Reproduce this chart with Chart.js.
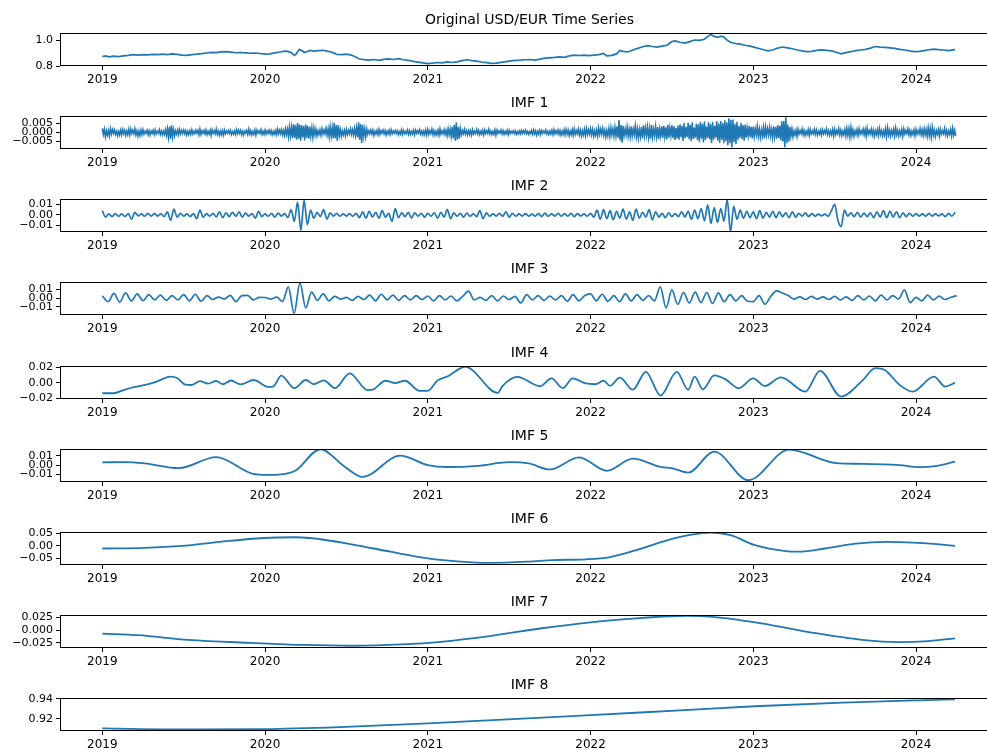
<!DOCTYPE html>
<html>
<head>
<meta charset="utf-8">
<title>USD/EUR EMD decomposition</title>
<script src="https://cdn.jsdelivr.net/npm/chart.js@4.4.1/dist/chart.umd.min.js"></script>
<style>
  html, body { margin: 0; padding: 0; background: #fff; overflow: hidden; width: 987px; height: 749px; }
  .panel { position: absolute; left: 0; width: 1000px; height: 83px; }
</style>
</head>
<body>
<script>
// ---- x axis (decimal years) ----
const YEAR_TICKS = [2019, 2020, 2021, 2022, 2023, 2024];

// ---- Original series: sample times and rates ----
const origT = [2019.00,2019.02,2019.04,2019.07,2019.10,2019.13,2019.16,2019.19,2019.22,2019.25,2019.28,2019.31,2019.34,2019.37,2019.40,2019.43,2019.46,2019.49,2019.52,2019.55,2019.58,2019.61,2019.64,2019.67,2019.70,2019.73,2019.76,2019.79,2019.82,2019.85,2019.88,2019.91,2019.94,2019.97,
2020.00,2020.03,2020.06,2020.09,2020.12,2020.14,2020.16,2020.18,2020.19,2020.21,2020.23,2020.24,2020.26,2020.28,2020.30,2020.33,2020.36,2020.38,2020.40,2020.42,2020.44,2020.47,2020.50,2020.53,2020.56,2020.58,2020.61,2020.64,2020.67,2020.70,2020.73,2020.76,2020.79,2020.82,2020.85,2020.88,2020.91,2020.94,2020.97,
2021.00,2021.03,2021.06,2021.09,2021.12,2021.15,2021.18,2021.21,2021.24,2021.27,2021.30,2021.33,2021.36,2021.39,2021.42,2021.45,2021.48,2021.51,2021.54,2021.57,2021.60,2021.63,2021.66,2021.69,2021.72,2021.75,2021.78,2021.81,2021.84,2021.87,2021.90,2021.93,2021.96,2021.99,
2022.02,2022.05,2022.08,2022.10,2022.13,2022.16,2022.18,2022.20,2022.23,2022.26,2022.29,2022.32,2022.35,2022.38,2022.41,2022.44,2022.47,2022.50,2022.52,2022.55,2022.58,2022.61,2022.64,2022.67,2022.70,2022.72,2022.74,2022.76,2022.78,2022.80,2022.82,2022.84,2022.86,2022.89,2022.92,2022.95,2022.98,
2023.01,2023.04,2023.07,2023.09,2023.12,2023.15,2023.18,2023.21,2023.24,2023.27,2023.30,2023.33,2023.36,2023.39,2023.42,2023.45,2023.48,2023.51,2023.54,2023.57,2023.60,2023.63,2023.66,2023.69,2023.72,2023.75,2023.78,2023.81,2023.84,2023.87,2023.90,2023.93,2023.96,2023.99,
2024.02,2024.05,2024.08,2024.11,2024.14,2024.17,2024.20,2024.24];
const origV = [0.875,0.880,0.872,0.878,0.874,0.880,0.884,0.889,0.886,0.890,0.887,0.892,0.889,0.893,0.890,0.895,0.891,0.886,0.884,0.890,0.893,0.897,0.902,0.907,0.905,0.910,0.913,0.909,0.904,0.906,0.903,0.900,0.902,0.898,
0.893,0.896,0.903,0.910,0.917,0.914,0.905,0.884,0.893,0.930,0.918,0.906,0.914,0.922,0.917,0.920,0.923,0.917,0.912,0.903,0.892,0.889,0.893,0.886,0.870,0.856,0.851,0.848,0.852,0.846,0.853,0.857,0.852,0.858,0.850,0.846,0.838,0.832,0.826,
0.820,0.824,0.829,0.826,0.834,0.829,0.834,0.843,0.850,0.844,0.839,0.833,0.828,0.822,0.824,0.830,0.836,0.842,0.845,0.847,0.850,0.852,0.848,0.855,0.862,0.865,0.868,0.872,0.868,0.880,0.885,0.883,0.886,0.882,
0.885,0.890,0.898,0.880,0.884,0.895,0.922,0.915,0.910,0.925,0.938,0.950,0.958,0.952,0.948,0.955,0.962,0.990,0.995,0.985,0.978,0.990,1.002,1.000,1.008,1.030,1.045,1.030,1.022,1.032,1.025,1.000,0.985,0.975,0.970,0.962,0.955,
0.945,0.935,0.925,0.918,0.925,0.940,0.948,0.942,0.935,0.925,0.918,0.912,0.915,0.922,0.926,0.922,0.918,0.908,0.896,0.905,0.912,0.920,0.925,0.930,0.940,0.952,0.948,0.946,0.942,0.938,0.930,0.925,0.918,0.912,
0.915,0.921,0.927,0.932,0.928,0.925,0.920,0.928];

// ---- IMF 1: evenly spaced samples, one row per quarter ----
const imf1Start = 2019.0, imf1Step = 0.00625;
const imf1V = [
0.0022,-0.0012,0.0017,-0.0024,0.0008,-0.0016,0.0010,-0.0020,0.0021,-0.0009,0.0015,-0.0006,0.0014,-0.0011,0.0006,-0.0019,0.0005,-0.0015,0.0012,-0.0013,0.0016,-0.0007,0.0011,-0.0018,0.0007,-0.0013,0.0017,-0.0015,0.0019,-0.0006,0.0012,-0.0009,0.0020,-0.0014,0.0008,-0.0022,0.0006,-0.0017,0.0013,-0.0013,
0.0014,-0.0010,0.0006,-0.0005,0.0011,-0.0013,0.0009,-0.0015,0.0007,-0.0006,0.0012,-0.0012,0.0013,-0.0009,0.0005,-0.0004,0.0015,-0.0011,0.0008,-0.0014,0.0006,-0.0012,0.0014,-0.0017,0.0020,-0.0028,0.0030,-0.0036,0.0038,-0.0025,0.0016,-0.0020,0.0008,-0.0010,0.0012,-0.0013,0.0016,-0.0008,0.0010,-0.0006,
0.0013,-0.0008,0.0010,-0.0015,0.0005,-0.0012,0.0009,-0.0011,0.0014,-0.0010,0.0006,-0.0007,0.0012,-0.0005,0.0011,-0.0014,0.0018,-0.0012,0.0008,-0.0006,0.0011,-0.0009,0.0013,-0.0013,0.0005,-0.0010,0.0012,-0.0017,0.0014,-0.0006,0.0009,-0.0008,0.0019,-0.0011,0.0007,-0.0016,0.0006,-0.0013,0.0010,-0.0015,
0.0012,-0.0009,0.0007,-0.0005,0.0010,-0.0006,0.0011,-0.0012,0.0004,-0.0010,0.0008,-0.0011,0.0015,-0.0007,0.0012,-0.0006,0.0011,-0.0013,0.0006,-0.0014,0.0007,-0.0004,0.0010,-0.0012,0.0018,-0.0010,0.0009,-0.0015,0.0005,-0.0011,0.0013,-0.0016,0.0012,-0.0005,0.0008,-0.0006,0.0015,-0.0012,0.0006,-0.0011,
0.0013,-0.0010,0.0008,-0.0006,0.0012,-0.0007,0.0010,-0.0014,0.0005,-0.0011,0.0009,-0.0013,0.0018,-0.0009,0.0012,-0.0008,0.0015,-0.0014,0.0010,-0.0018,0.0020,-0.0012,0.0018,-0.0025,0.0030,-0.0020,0.0028,-0.0032,0.0045,-0.0030,0.0038,-0.0040,0.0050,-0.0035,0.0042,-0.0046,0.0038,-0.0028,0.0034,-0.0044,
0.0042,-0.0030,0.0036,-0.0035,0.0030,-0.0022,0.0025,-0.0028,0.0024,-0.0015,0.0018,-0.0020,0.0008,-0.0012,0.0014,-0.0016,0.0020,-0.0010,0.0013,-0.0009,0.0022,-0.0015,0.0019,-0.0025,0.0030,-0.0022,0.0026,-0.0034,0.0050,-0.0032,0.0038,-0.0046,0.0040,-0.0018,0.0015,-0.0022,0.0008,-0.0014,0.0011,-0.0020,
0.0016,-0.0012,0.0010,-0.0008,0.0020,-0.0011,0.0014,-0.0015,0.0022,-0.0018,0.0025,-0.0028,0.0054,-0.0040,0.0045,-0.0058,0.0040,-0.0022,0.0020,-0.0025,0.0018,-0.0011,0.0009,-0.0007,0.0014,-0.0010,0.0012,-0.0017,0.0006,-0.0009,0.0011,-0.0013,0.0016,-0.0012,0.0008,-0.0005,0.0012,-0.0008,0.0010,-0.0015,
0.0006,-0.0009,0.0012,-0.0011,0.0014,-0.0008,0.0007,-0.0005,0.0010,-0.0006,0.0009,-0.0013,0.0004,-0.0010,0.0013,-0.0012,0.0011,-0.0007,0.0005,-0.0006,0.0013,-0.0011,0.0008,-0.0012,0.0005,-0.0009,0.0012,-0.0014,0.0012,-0.0006,0.0009,-0.0004,0.0014,-0.0010,0.0007,-0.0013,0.0006,-0.0012,0.0013,-0.0015,
0.0016,-0.0011,0.0009,-0.0007,0.0018,-0.0012,0.0010,-0.0015,0.0006,-0.0013,0.0012,-0.0016,0.0019,-0.0010,0.0007,-0.0008,0.0015,-0.0012,0.0011,-0.0018,0.0020,-0.0014,0.0017,-0.0022,0.0030,-0.0034,0.0040,-0.0046,0.0054,-0.0040,0.0028,-0.0035,0.0022,-0.0012,0.0010,-0.0008,0.0016,-0.0011,0.0009,-0.0015,
0.0008,-0.0012,0.0010,-0.0016,0.0014,-0.0009,0.0006,-0.0006,0.0015,-0.0008,0.0011,-0.0013,0.0005,-0.0010,0.0012,-0.0014,0.0012,-0.0007,0.0009,-0.0006,0.0017,-0.0010,0.0007,-0.0013,0.0005,-0.0011,0.0013,-0.0016,0.0012,-0.0006,0.0008,-0.0004,0.0013,-0.0009,0.0010,-0.0012,0.0005,-0.0008,0.0011,-0.0013,
0.0011,-0.0007,0.0006,-0.0004,0.0009,-0.0006,0.0008,-0.0012,0.0004,-0.0009,0.0007,-0.0008,0.0011,-0.0006,0.0009,-0.0005,0.0012,-0.0008,0.0005,-0.0011,0.0004,-0.0007,0.0010,-0.0010,0.0013,-0.0009,0.0008,-0.0015,0.0006,-0.0010,0.0011,-0.0012,0.0010,-0.0005,0.0007,-0.0004,0.0013,-0.0009,0.0006,-0.0012,
0.0006,-0.0010,0.0011,-0.0012,0.0015,-0.0009,0.0008,-0.0007,0.0013,-0.0011,0.0010,-0.0015,0.0006,-0.0012,0.0014,-0.0014,0.0016,-0.0010,0.0012,-0.0018,0.0007,-0.0013,0.0015,-0.0017,0.0019,-0.0011,0.0009,-0.0008,0.0018,-0.0014,0.0012,-0.0020,0.0009,-0.0015,0.0017,-0.0019,0.0021,-0.0012,0.0014,-0.0010,
0.0020,-0.0014,0.0016,-0.0022,0.0009,-0.0017,0.0013,-0.0021,0.0024,-0.0012,0.0018,-0.0010,0.0022,-0.0016,0.0012,-0.0025,0.0011,-0.0019,0.0021,-0.0023,0.0026,-0.0014,0.0019,-0.0022,0.0028,-0.0020,0.0032,-0.0030,0.0067,-0.0045,0.0040,-0.0057,0.0035,-0.0020,0.0018,-0.0015,0.0030,-0.0022,0.0017,-0.0026,
0.0032,-0.0022,0.0018,-0.0014,0.0035,-0.0025,0.0020,-0.0031,0.0015,-0.0024,0.0029,-0.0034,0.0038,-0.0019,0.0024,-0.0018,0.0030,-0.0028,0.0022,-0.0036,0.0040,-0.0026,0.0017,-0.0020,0.0032,-0.0024,0.0028,-0.0038,0.0018,-0.0021,0.0033,-0.0030,0.0036,-0.0023,0.0027,-0.0039,0.0041,-0.0029,0.0024,-0.0020,
0.0038,-0.0030,0.0034,-0.0042,0.0025,-0.0033,0.0037,-0.0040,0.0043,-0.0028,0.0036,-0.0047,0.0050,-0.0032,0.0028,-0.0025,0.0052,-0.0037,0.0041,-0.0048,0.0055,-0.0036,0.0026,-0.0030,0.0047,-0.0040,0.0044,-0.0053,0.0058,-0.0035,0.0046,-0.0055,0.0060,-0.0042,0.0031,-0.0030,0.0054,-0.0038,0.0045,-0.0059,
0.0056,-0.0040,0.0035,-0.0030,0.0060,-0.0045,0.0048,-0.0058,0.0062,-0.0041,0.0050,-0.0060,0.0065,-0.0048,0.0055,-0.0070,0.0076,-0.0060,0.0068,-0.0082,0.0070,-0.0052,0.0047,-0.0064,0.0058,-0.0040,0.0034,-0.0030,0.0050,-0.0036,0.0040,-0.0046,0.0042,-0.0029,0.0024,-0.0020,0.0036,-0.0027,0.0030,-0.0034,
0.0032,-0.0024,0.0019,-0.0015,0.0034,-0.0022,0.0018,-0.0028,0.0014,-0.0020,0.0026,-0.0033,0.0029,-0.0017,0.0021,-0.0015,0.0027,-0.0021,0.0016,-0.0030,0.0033,-0.0024,0.0028,-0.0035,0.0040,-0.0030,0.0036,-0.0045,0.0060,-0.0050,0.0062,-0.0082,0.0085,-0.0060,0.0042,-0.0050,0.0030,-0.0022,0.0018,-0.0025,
0.0008,-0.0015,0.0012,-0.0022,0.0018,-0.0010,0.0009,-0.0007,0.0019,-0.0013,0.0011,-0.0017,0.0006,-0.0012,0.0015,-0.0018,0.0016,-0.0009,0.0007,-0.0008,0.0017,-0.0011,0.0013,-0.0015,0.0006,-0.0010,0.0012,-0.0016,0.0014,-0.0008,0.0010,-0.0007,0.0019,-0.0012,0.0009,-0.0016,0.0008,-0.0013,0.0015,-0.0020,
0.0017,-0.0012,0.0010,-0.0008,0.0021,-0.0014,0.0012,-0.0018,0.0007,-0.0013,0.0016,-0.0020,0.0022,-0.0017,0.0020,-0.0026,0.0028,-0.0018,0.0014,-0.0022,0.0008,-0.0012,0.0015,-0.0017,0.0020,-0.0011,0.0008,-0.0009,0.0017,-0.0013,0.0016,-0.0021,0.0023,-0.0012,0.0009,-0.0008,0.0018,-0.0015,0.0013,-0.0022,
0.0009,-0.0013,0.0015,-0.0018,0.0022,-0.0012,0.0010,-0.0019,0.0008,-0.0016,0.0019,-0.0024,0.0026,-0.0015,0.0012,-0.0021,0.0009,-0.0014,0.0017,-0.0022,0.0024,-0.0013,0.0011,-0.0020,0.0008,-0.0015,0.0016,-0.0021,0.0019,-0.0009,0.0010,-0.0007,0.0020,-0.0014,0.0011,-0.0018,0.0006,-0.0012,0.0014,-0.0019,
0.0017,-0.0011,0.0009,-0.0008,0.0021,-0.0013,0.0015,-0.0018,0.0020,-0.0014,0.0016,-0.0022,0.0025,-0.0018,0.0021,-0.0027,0.0028,-0.0016,0.0013,-0.0023,0.0009,-0.0012,0.0015,-0.0021,0.0018,-0.0010,0.0008,-0.0008,0.0022,-0.0014,0.0012,-0.0019,0.0007,-0.0011,0.0016,-0.0020,0.0023,-0.0015,0.0012,-0.0021];

// ---- IMF 2: evenly spaced samples ----
const imf2Start = 2019.0, imf2Step = 0.02;
const imf2V = [
0.0040,-0.0020,0.0010,-0.0015,0.0012,-0.0012,0.0010,-0.0014,0.0012,-0.0040,0.0025,-0.0008,0.0010,-0.0012,0.0015,-0.0010,0.0012,-0.0010,0.0010,-0.0015,
0.0030,-0.0050,0.0055,-0.0020,0.0015,-0.0012,0.0010,-0.0015,0.0012,-0.0035,0.0045,-0.0020,0.0012,-0.0010,0.0015,-0.0018,0.0030,-0.0025,0.0020,-0.0015,
0.0025,-0.0012,0.0030,-0.0020,0.0018,-0.0010,0.0012,-0.0030,0.0035,-0.0015,
0.0010,-0.0012,0.0015,-0.0020,0.0018,-0.0010,0.0012,-0.0025,0.0050,-0.0060,0.0120,-0.0145,0.0140,-0.0090,0.0045,-0.0030,0.0025,-0.0015,0.0050,-0.0040,
0.0020,-0.0010,0.0015,-0.0012,0.0010,-0.0010,0.0012,-0.0012,0.0015,-0.0025,0.0030,-0.0030,0.0035,-0.0020,0.0025,-0.0030,0.0040,-0.0020,0.0015,-0.0060,
0.0060,-0.0025,0.0020,-0.0015,0.0025,-0.0030,0.0020,-0.0012,0.0015,-0.0020,
0.0015,-0.0012,0.0020,-0.0030,0.0025,-0.0020,0.0050,-0.0035,0.0020,-0.0012,0.0015,-0.0020,0.0018,-0.0012,0.0010,-0.0015,0.0040,-0.0035,0.0020,-0.0012,
0.0010,-0.0010,0.0015,-0.0012,0.0030,-0.0020,0.0015,-0.0012,0.0010,-0.0010,0.0012,-0.0010,0.0008,-0.0010,0.0012,-0.0015,0.0018,-0.0012,0.0010,-0.0010,
0.0015,-0.0012,0.0012,-0.0010,0.0015,-0.0015,0.0012,-0.0010,0.0010,-0.0012,
0.0015,-0.0020,0.0045,-0.0040,0.0050,-0.0035,0.0040,-0.0045,0.0035,-0.0030,0.0055,-0.0040,0.0030,-0.0050,0.0055,-0.0030,0.0025,-0.0020,0.0050,-0.0045,
0.0030,-0.0020,0.0015,-0.0025,0.0020,-0.0015,0.0012,-0.0015,0.0030,-0.0020,0.0035,-0.0040,0.0045,-0.0035,0.0060,-0.0055,0.0095,-0.0080,0.0070,-0.0070,
0.0060,-0.0060,0.0145,-0.0160,0.0080,-0.0040,0.0045,-0.0030,0.0035,-0.0025,
0.0030,-0.0035,0.0040,-0.0030,0.0025,-0.0020,0.0035,-0.0025,0.0030,-0.0015,0.0020,-0.0025,0.0030,-0.0020,0.0015,-0.0012,0.0020,-0.0015,0.0012,-0.0010,
0.0008,-0.0008,0.0008,-0.0012,0.0040,0.0100,-0.0050,-0.0110,0.0045,-0.0010,0.0020,-0.0015,0.0025,-0.0020,0.0018,-0.0015,0.0020,-0.0025,0.0030,-0.0020,
0.0040,-0.0025,0.0035,-0.0020,0.0030,-0.0025,0.0020,-0.0015,0.0015,-0.0012,
0.0012,-0.0010,0.0010,-0.0012,0.0015,-0.0010,0.0010,-0.0008,0.0010,-0.0015,0.0015,-0.0012,0.0025];

// ---- IMF 3: evenly spaced samples (28 per year) ----
const imf3Start = 2019.0, imf3Step = 1 / 28;
const imf3V = [
0.0026,-0.0040,0.0055,-0.0045,0.0060,-0.0030,0.0050,-0.0028,0.0040,-0.0020,0.0035,-0.0025,0.0030,-0.0020,0.0040,-0.0030,0.0045,-0.0035,0.0030,-0.0015,0.0012,-0.0010,0.0032,-0.0040,0.0030,0.0032,-0.0020,0.0010,
0.0008,-0.0010,0.0012,-0.0038,0.0130,-0.0175,0.0175,-0.0110,0.0070,-0.0025,0.0050,-0.0030,0.0020,-0.0010,0.0010,-0.0025,0.0020,-0.0015,0.0035,-0.0030,0.0045,-0.0020,0.0035,-0.0025,0.0030,-0.0020,0.0030,-0.0015,
0.0025,-0.0030,0.0030,-0.0020,0.0025,-0.0030,0.0020,0.0080,-0.0020,0.0010,-0.0025,0.0030,-0.0030,0.0025,-0.0015,0.0020,-0.0055,0.0040,-0.0020,0.0030,-0.0025,0.0025,-0.0020,0.0030,-0.0035,0.0040,-0.0030,0.0030,
0.0050,-0.0030,0.0045,-0.0035,0.0030,-0.0040,0.0050,-0.0030,0.0040,-0.0025,0.0030,-0.0030,0.0130,-0.0110,0.0095,-0.0070,0.0065,-0.0055,0.0070,-0.0050,0.0065,-0.0060,0.0060,-0.0040,0.0040,-0.0030,0.0030,-0.0035,
-0.0040,0.0030,-0.0068,0.0020,0.0083,0.0060,0.0030,-0.0010,0.0015,-0.0015,0.0020,-0.0010,0.0015,-0.0015,0.0020,-0.0020,0.0015,-0.0025,0.0030,-0.0020,0.0025,-0.0030,0.0035,-0.0020,0.0030,-0.0010,0.0095,-0.0050,
0.0010,-0.0030,0.0035,-0.0020,0.0025,-0.0015,0.0010,0.0030];

// ---- IMF 4 ----
const imf4T = [2019.00,2019.07,2019.13,2019.20,2019.27,2019.33,2019.38,2019.42,2019.46,2019.51,2019.55,2019.60,2019.65,2019.70,2019.74,2019.79,2019.85,2019.93,2020.02,2020.05,2020.10,2020.18,2020.25,2020.30,2020.36,2020.43,2020.52,2020.63,2020.66,2020.74,2020.80,2020.86,2020.95,2021.00,2021.06,2021.12,2021.23,2021.43,2021.46,2021.55,2021.69,2021.76,2021.83,2021.89,2021.97,2022.03,2022.08,2022.12,2022.18,2022.26,2022.34,2022.43,2022.53,2022.60,2022.64,2022.69,2022.76,2022.83,2022.91,2023.00,2023.07,2023.17,2023.32,2023.41,2023.54,2023.67,2023.75,2023.81,2023.90,2023.98,2024.11,2024.18,2024.24];
const imf4V = [-0.0136,-0.0136,-0.0095,-0.0055,-0.0025,0.0010,0.0055,0.0078,0.0060,-0.0025,-0.0030,0.0020,-0.0012,0.0022,-0.0020,0.0028,-0.0022,0.0035,-0.0055,-0.0050,0.0090,-0.0070,0.0035,-0.0020,0.0030,-0.0070,0.0120,-0.0095,-0.0090,0.0025,-0.0005,0.0025,-0.0105,-0.0105,0.0030,0.0080,0.0205,-0.0130,-0.0040,0.0075,-0.0045,0.0055,-0.0070,0.0055,-0.0010,-0.0020,0.0026,-0.0040,0.0064,-0.0090,0.0140,-0.0166,0.0140,-0.0090,0.0077,-0.0085,0.0094,0.0043,-0.0070,0.0055,-0.0043,0.0068,-0.0115,0.0153,-0.0179,0.0026,0.0187,0.0160,-0.0030,-0.0115,0.0077,-0.0050,0.0000];

// ---- IMF 5 ----
const imf5T = [2019.00,2019.14,2019.26,2019.47,2019.70,2019.92,2020.03,2020.15,2020.19,2020.34,2020.49,2020.60,2020.83,2021.00,2021.12,2021.31,2021.50,2021.62,2021.75,2021.93,2022.10,2022.26,2022.43,2022.51,2022.60,2022.76,2022.97,2023.22,2023.51,2023.67,2023.90,2024.02,2024.13,2024.24];
const imf5V = [0.0029,0.0032,0.0018,-0.0032,0.0085,-0.0089,-0.0104,-0.0082,-0.0054,0.0168,-0.0018,-0.0125,0.0100,0.0000,-0.0020,-0.0007,0.0032,0.0018,-0.0046,0.0082,-0.0060,0.0068,-0.0018,-0.0036,-0.0079,0.0143,-0.0160,0.0164,0.0021,0.0014,0.0000,-0.0021,-0.0007,0.0036];

// ---- IMF 6 ----
const imf6T = [2019.00,2019.26,2019.49,2019.72,2019.99,2020.19,2020.34,2020.54,2020.77,2021.00,2021.20,2021.38,2021.62,2021.77,2021.97,2022.12,2022.28,2022.47,2022.62,2022.74,2022.86,2023.01,2023.20,2023.28,2023.44,2023.63,2023.82,2023.98,2024.13,2024.24];
const imf6V = [-0.0104,-0.0078,0.0000,0.0156,0.0310,0.0340,0.0260,0.0050,-0.0230,-0.0490,-0.0620,-0.0670,-0.0620,-0.0560,-0.0530,-0.0440,-0.0170,0.0220,0.0440,0.0520,0.0420,0.0026,-0.0210,-0.0230,-0.0104,0.0090,0.0156,0.0130,0.0065,0.0000];

// ---- IMF 7 ----
const imf7T = [2019.00,2019.22,2019.53,2019.92,2020.23,2020.54,2020.84,2021.08,2021.39,2021.70,2022.00,2022.28,2022.45,2022.60,2022.75,2023.05,2023.36,2023.67,2023.90,2024.05,2024.24];
const imf7V = [-0.0065,-0.0098,-0.0190,-0.0250,-0.0290,-0.0306,-0.0280,-0.0228,-0.0110,0.0039,0.0156,0.0234,0.0270,0.0283,0.0265,0.0137,-0.0046,-0.0190,-0.0234,-0.0220,-0.0160];

// ---- IMF 8 (trend) ----
const imf8T = [2019.00,2019.53,2019.99,2020.46,2021.00,2021.46,2022.00,2022.55,2023.01,2023.55,2024.02,2024.24];
const imf8V = [0.9105,0.9095,0.9098,0.9118,0.9154,0.9193,0.9236,0.9285,0.9325,0.9361,0.9384,0.9393];

// ---- panel titles and y tick labels ----
const panelTitles = ['Original USD/EUR Time Series', 'IMF 1', 'IMF 2', 'IMF 3', 'IMF 4', 'IMF 5', 'IMF 6', 'IMF 7', 'IMF 8'];
const yTickValues = [[0.8, 1.0], [-0.005, 0, 0.005], [-0.01, 0, 0.01], [-0.01, 0, 0.01], [-0.02, 0, 0.02], [-0.01, 0, 0.01], [-0.05, 0, 0.05], [-0.025, 0, 0.025], [0.92, 0.94]];
const yTickLabels = [['0.8', '1.0'], ['\u22120.005', '0.000', '0.005'], ['\u22120.01', '0.00', '0.01'], ['\u22120.01', '0.00', '0.01'], ['\u22120.02', '0.00', '0.02'], ['\u22120.01', '0.00', '0.01'], ['\u22120.05', '0.00', '0.05'], ['\u22120.025', '0.000', '0.025'], ['0.92', '0.94']];
const yLimits = [[0.802, 1.056], [-0.0091, 0.0089], [-0.016, 0.015], [-0.0192, 0.0185], [-0.021, 0.0215], [-0.0179, 0.0171], [-0.0754, 0.0546], [-0.035, 0.030], [0.9079, 0.9407]];

// ---- build point lists ----
const pairs = (t, v) => t.map((x, i) => ({ x, y: v[i] }));
const even = (start, step, v) => v.map((y, i) => ({ x: start + i * step, y }));

const series = [
  { pts: pairs(origT, origV), smooth: false, width: 1.7 },
  { pts: even(imf1Start, imf1Step, imf1V), smooth: false, width: 1.5 },
  { pts: even(imf2Start, imf2Step, imf2V), smooth: true, width: 1.7 },
  { pts: even(imf3Start, imf3Step, imf3V), smooth: true, width: 1.7 },
  { pts: pairs(imf4T, imf4V), smooth: true, width: 1.8 },
  { pts: pairs(imf5T, imf5V), smooth: true, width: 1.8 },
  { pts: pairs(imf6T, imf6V), smooth: true, width: 1.8 },
  { pts: pairs(imf7T, imf7V), smooth: true, width: 1.8 },
  { pts: pairs(imf8T, imf8V), smooth: true, width: 1.8 }
];

// ---- layout ----
const FRAME_TOPS = [33, 116, 199, 282, 366, 449, 532, 615, 698];
const TITLE_SPACE = 28, AXIS_W = 60, XAXIS_H = 22;

Chart.defaults.font.family = '"DejaVu Sans", sans-serif';
Chart.defaults.color = '#000';

// box around the plot area plus the panel title above it
const panelFrame = {
  id: 'panelFrame',
  afterDraw(chart, args, opts) {
    const { ctx, chartArea: a } = chart;
    ctx.save();
    ctx.strokeStyle = '#000';
    ctx.lineWidth = 1;
    ctx.strokeRect(Math.round(a.left) + 0.5, Math.round(a.top) + 0.5,
                   Math.round(a.right - a.left), Math.round(a.bottom - a.top) - 1);
    ctx.fillStyle = '#000';
    ctx.font = '14px "DejaVu Sans", sans-serif';
    ctx.textAlign = 'center';
    ctx.textBaseline = 'middle';
    ctx.fillText(opts.text, (a.left + a.right) / 2, a.top - 13);
    ctx.restore();
  }
};

series.forEach((s, i) => {
  const div = document.createElement('div');
  div.className = 'panel';
  div.style.top = (FRAME_TOPS[i] - TITLE_SPACE) + 'px';
  const cv = document.createElement('canvas');
  cv.width = 1000; cv.height = 83;
  cv.style.width = '1000px'; cv.style.height = '83px';
  div.appendChild(cv);
  document.body.appendChild(div);

  const tv = yTickValues[i], tl = yTickLabels[i];
  new Chart(cv, {
    type: 'line',
    data: {
      datasets: [{
        data: s.pts,
        borderColor: '#1f77b4',
        borderWidth: s.width,
        pointRadius: 0,
        fill: false,
        tension: s.smooth ? 0.4 : 0,
        cubicInterpolationMode: s.smooth ? 'monotone' : 'default'
      }]
    },
    options: {
      responsive: false,
      animation: false,
      events: [],
      layout: { padding: { top: TITLE_SPACE, right: 1, bottom: 0, left: 0 } },
      plugins: {
        legend: { display: false },
        tooltip: { enabled: false },
        title: { display: false },
        panelFrame: { text: panelTitles[i] }
      },
      scales: {
        x: {
          type: 'linear',
          min: 2018.74,
          max: 2024.51,
          afterBuildTicks: sc => { sc.ticks = YEAR_TICKS.map(v => ({ value: v })); },
          afterFit: sc => { sc.height = XAXIS_H; },
          ticks: { callback: v => String(v), font: { size: 12 }, color: '#000', padding: 3, maxRotation: 0, autoSkip: false },
          grid: { display: true, drawOnChartArea: false, drawTicks: true, tickLength: 4, color: '#000', lineWidth: 1 },
          border: { display: false }
        },
        y: {
          type: 'linear',
          min: yLimits[i][0],
          max: yLimits[i][1],
          afterBuildTicks: sc => { sc.ticks = tv.map(v => ({ value: v })); },
          afterFit: sc => { sc.width = AXIS_W; },
          ticks: {
            callback: v => { const k = tv.indexOf(v); return k >= 0 ? tl[k] : ''; },
            font: { size: 11 }, color: '#000', padding: 3, autoSkip: false
          },
          grid: { display: true, drawOnChartArea: false, drawTicks: true, tickLength: 4, color: '#000', lineWidth: 1 },
          border: { display: false }
        }
      }
    },
    plugins: [panelFrame]
  });
});
</script>
</body>
</html>
